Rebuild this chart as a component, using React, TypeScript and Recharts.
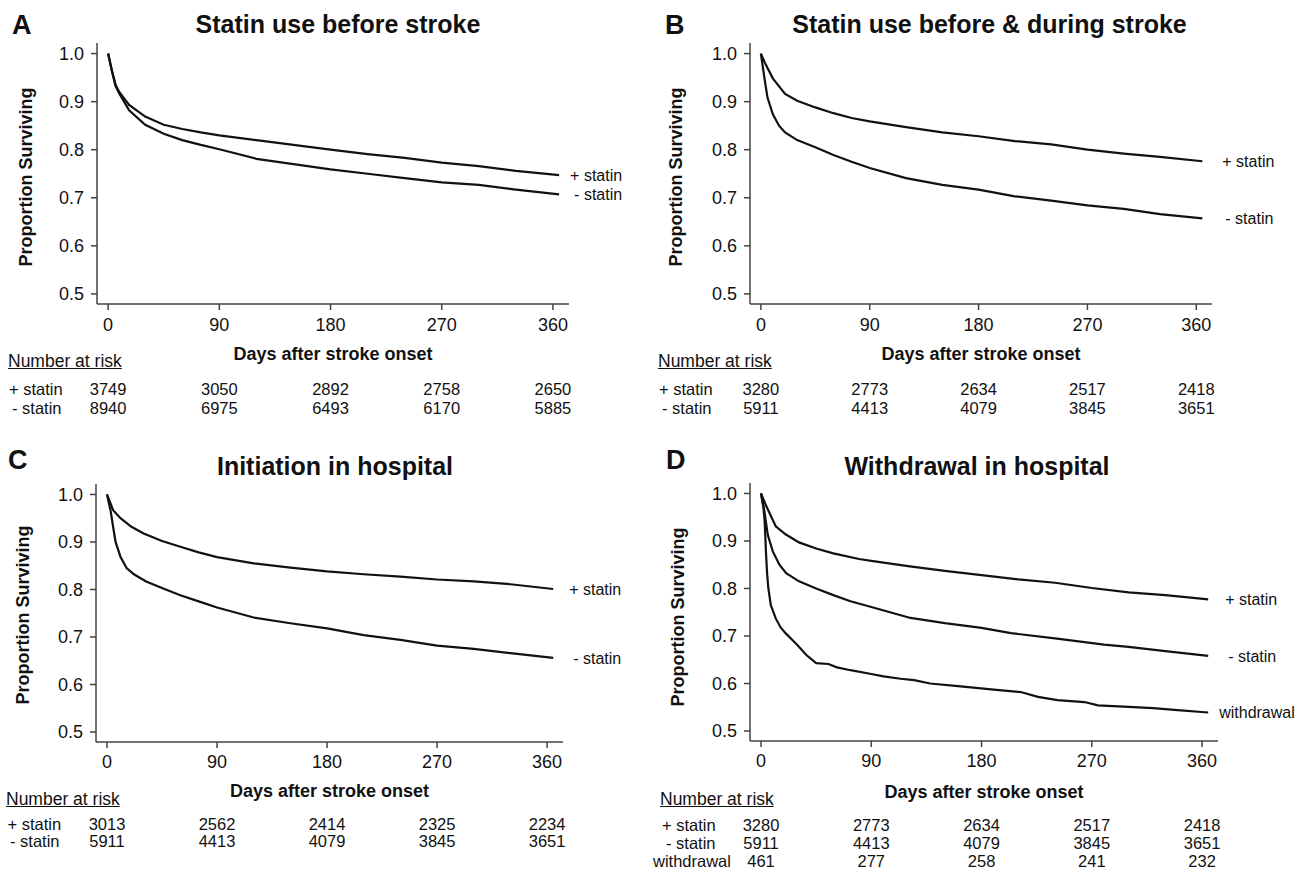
import React from "react";
import { LineChart, Line, XAxis, YAxis, ReferenceDot } from "recharts";

const FONT = '"Liberation Sans", Arial, Helvetica, sans-serif';
const INK = "#111";
const AXIS = "#444";

const xTicks = [0, 90, 180, 270, 360];
const yTicks = [0.5, 0.6, 0.7, 0.8, 0.9, 1.0];
const xDomain: [number, number] = [-9, 373];
const yDomain: [number, number] = [0.479, 1.022];

// A: statin use before stroke
const daysA = [0, 3, 6, 9, 17, 30, 45, 60, 75, 90, 120, 150, 180, 210, 240, 270, 300, 330, 365];
const plusA = [1.0, 0.965, 0.935, 0.92, 0.893, 0.869, 0.852, 0.843, 0.836, 0.83, 0.82, 0.81, 0.8, 0.791, 0.783, 0.773, 0.766, 0.756, 0.747];
const minusA = [1.0, 0.965, 0.933, 0.917, 0.882, 0.852, 0.833, 0.82, 0.81, 0.801, 0.781, 0.77, 0.759, 0.75, 0.741, 0.732, 0.727, 0.717, 0.707];
const riskPlusA = [3749, 3050, 2892, 2758, 2650];
const riskMinusA = [8940, 6975, 6493, 6170, 5885];

// B: before & during
const daysPlusB = [0, 4, 10, 20, 30, 45, 60, 75, 90, 120, 150, 180, 210, 240, 270, 300, 330, 365];
const plusB = [1.0, 0.977, 0.948, 0.916, 0.902, 0.888, 0.876, 0.866, 0.859, 0.847, 0.836, 0.828, 0.818, 0.811, 0.8, 0.792, 0.785, 0.776];
const daysMinusB = [0, 3, 5.5, 10, 15, 20, 30, 45, 60, 75, 90, 120, 150, 180, 210, 240, 270, 300, 330, 365];
const minusB = [1.0, 0.948, 0.908, 0.873, 0.85, 0.836, 0.82, 0.805, 0.789, 0.775, 0.762, 0.741, 0.727, 0.717, 0.703, 0.694, 0.684, 0.677, 0.666, 0.657];
const riskPlusB = [3280, 2773, 2634, 2517, 2418];
const riskMinusB = [5911, 4413, 4079, 3845, 3651];

// C: initiation in hospital
const daysPlusC = [0, 5, 11, 20, 30, 45, 60, 75, 90, 120, 150, 180, 210, 240, 270, 300, 330, 365];
const plusC = [1.0, 0.967, 0.95, 0.932, 0.918, 0.902, 0.89, 0.878, 0.868, 0.855, 0.846, 0.838, 0.832, 0.827, 0.821, 0.817, 0.811, 0.801];
const daysMinusC = [0, 3, 5, 7, 11, 16, 22, 32, 46, 60, 75, 90, 120, 150, 180, 210, 240, 270, 300, 330, 365];
const minusC = [1.0, 0.965, 0.932, 0.9, 0.869, 0.845, 0.832, 0.817, 0.802, 0.788, 0.775, 0.762, 0.741, 0.729, 0.718, 0.704, 0.694, 0.682, 0.675, 0.666, 0.656];
const riskPlusC = [3013, 2562, 2414, 2325, 2234];
const riskMinusC = [5911, 4413, 4079, 3845, 3651];

// D: withdrawal in hospital
const daysPlusD = [0, 4, 12, 20, 31, 45, 59, 80, 90, 120, 150, 180, 210, 240, 270, 300, 330, 365];
const plusD = [1.0, 0.975, 0.931, 0.914, 0.897, 0.884, 0.874, 0.862, 0.858, 0.847, 0.837, 0.828, 0.819, 0.812, 0.801, 0.792, 0.786, 0.777];
const daysMinusD = [0, 2.7, 5.5, 9.6, 15, 20.5, 31, 45, 59, 73, 90, 122, 150, 180, 204, 240, 280, 300, 330, 365];
const minusD = [1.0, 0.963, 0.913, 0.878, 0.85, 0.832, 0.815, 0.8, 0.786, 0.773, 0.761, 0.738, 0.727, 0.717, 0.706, 0.695, 0.682, 0.677, 0.668, 0.658];
const daysWithdrawD = [0, 2, 3, 4, 5, 6, 8, 12, 16, 20, 25, 30, 37, 45, 55, 62, 73, 90, 100, 114, 125, 138, 163, 190, 212, 226, 242, 264, 275, 300, 320, 340, 365];
const withdrawD = [1.0, 0.97, 0.94, 0.878, 0.83, 0.8, 0.765, 0.737, 0.718, 0.706, 0.693, 0.68, 0.66, 0.643, 0.641, 0.634, 0.628, 0.62, 0.615, 0.61, 0.607, 0.6, 0.594, 0.587, 0.582, 0.572, 0.565, 0.561, 0.554, 0.551, 0.548, 0.544, 0.539];
const riskPlusD = [3280, 2773, 2634, 2517, 2418];
const riskMinusD = [5911, 4413, 4079, 3845, 3651];
const riskWithdrawD = [461, 277, 258, 241, 232];

type Series = { name: string; days: number[]; vals: number[]; dx: number };
type RiskRow = { label: string; values: number[]; x: number };
type PanelCfg = {
  letter: string;
  title: string;
  x: number;
  y: number;
  w: number;
  h: number;
  plot: { left: number; right: number; top: number; bottom: number };
  mainH: number;
  tickGap: number;
  rowH: number;
  riskGap: number;
  letterPos: [number, number];
  titlePos: [number, number];
  yLabelPos: [number, number];
  headerPos: [number, number];
  series: Series[];
  risk: RiskRow[];
};

const panels: PanelCfg[] = [
  {
    letter: "A",
    title: "Statin use before stroke",
    x: 0, y: 0, w: 650, h: 430,
    plot: { left: 97, right: 569, top: 43, bottom: 304 },
    mainH: 56, tickGap: 8, rowH: 19, riskGap: 23.3,
    letterPos: [12, 35], titlePos: [338, 33], yLabelPos: [26, 177], headerPos: [8, 368],
    series: [
      { name: "+ statin", days: daysA, vals: plusA, dx: 11 },
      { name: "- statin", days: daysA, vals: minusA, dx: 15 },
    ],
    risk: [
      { label: "+ statin", values: riskPlusA, x: 9 },
      { label: "- statin", values: riskMinusA, x: 12 },
    ],
  },
  {
    letter: "B",
    title: "Statin use before & during stroke",
    x: 650, y: 0, w: 649, h: 430,
    plot: { left: 750, right: 1212, top: 43, bottom: 304 },
    mainH: 56, tickGap: 8, rowH: 19, riskGap: 23.3,
    letterPos: [665, 35], titlePos: [989.5, 33], yLabelPos: [676, 177], headerPos: [658, 368],
    series: [
      { name: "+ statin", days: daysPlusB, vals: plusB, dx: 20 },
      { name: "- statin", days: daysMinusB, vals: minusB, dx: 23 },
    ],
    risk: [
      { label: "+ statin", values: riskPlusB, x: 659 },
      { label: "- statin", values: riskMinusB, x: 662 },
    ],
  },
  {
    letter: "C",
    title: "Initiation in hospital",
    x: 0, y: 430, w: 650, h: 441,
    plot: { left: 96, right: 563, top: 484, bottom: 742 },
    mainH: 55, tickGap: 7, rowH: 17, riskGap: 21.3,
    letterPos: [8, 470], titlePos: [335, 475], yLabelPos: [23, 615], headerPos: [6, 806],
    series: [
      { name: "+ statin", days: daysPlusC, vals: plusC, dx: 16 },
      { name: "- statin", days: daysMinusC, vals: minusC, dx: 20 },
    ],
    risk: [
      { label: "+ statin", values: riskPlusC, x: 7.5 },
      { label: "- statin", values: riskMinusC, x: 10 },
    ],
  },
  {
    letter: "D",
    title: "Withdrawal in hospital",
    x: 650, y: 430, w: 649, h: 441,
    plot: { left: 750, right: 1218, top: 483, bottom: 741 },
    mainH: 57, tickGap: 7, rowH: 18, riskGap: 21.3,
    letterPos: [666, 470], titlePos: [977, 475], yLabelPos: [678, 617], headerPos: [660, 806],
    series: [
      { name: "+ statin", days: daysPlusD, vals: plusD, dx: 17 },
      { name: "- statin", days: daysMinusD, vals: minusD, dx: 20 },
      { name: "withdrawal", days: daysWithdrawD, vals: withdrawD, dx: 11 },
    ],
    risk: [
      { label: "+ statin", values: riskPlusD, x: 662 },
      { label: "- statin", values: riskMinusD, x: 666 },
      { label: "withdrawal", values: riskWithdrawD, x: 653 },
    ],
  },
];

const RISK_FS = 16.5;
const toPoints = (days: number[], vals: number[]) => days.map((d, i) => ({ day: d, v: vals[i] }));

// text placed by its baseline, page coordinates
function Txt({ x, base, size, bold, anchor = "start", underline, children }: any) {
  const shift = anchor === "middle" ? "translateX(-50%)" : undefined;
  return (
    <div
      style={{
        position: "absolute",
        left: x,
        top: base - 0.8465 * size,
        fontSize: size,
        lineHeight: `${size}px`,
        fontWeight: bold ? 700 : 400,
        fontFamily: FONT,
        color: INK,
        whiteSpace: "nowrap",
        transform: shift,
        textDecoration: underline ? "underline" : undefined,
      }}
    >
      {children}
    </div>
  );
}

const endLabel = (text: string, dx: number) => (props: any) => {
  const vb = props.viewBox || props;
  const cx = vb.x + (vb.width || 0) / 2;
  const cy = vb.y + (vb.height || 0) / 2;
  return (
    <text x={cx + dx} y={cy} dy="0.35em" fill={INK} fontSize={16} fontFamily={FONT}>
      {text}
    </text>
  );
};

function Panel({ p }: { p: PanelCfg }) {
  const yAxisW = 60;
  const margin = {
    top: p.plot.top - p.y,
    left: p.plot.left - p.x - yAxisW,
    right: p.x + p.w - p.plot.right,
    bottom: p.h - (p.plot.bottom - p.y) - p.mainH - p.rowH * p.risk.length,
  };
  const tickStyle = { fill: INK, fontSize: 18, fontFamily: FONT };
  const rowBase = (k: number) => p.plot.bottom + p.mainH + k * p.rowH + p.riskGap + 0.71 * RISK_FS;
  const firstPts = toPoints(p.series[0].days, p.series[0].vals);

  return (
    <>
      <div style={{ position: "absolute", left: p.x, top: p.y }}>
        <LineChart width={p.w} height={p.h} margin={margin}>
          <XAxis
            dataKey="day"
            type="number"
            domain={xDomain}
            allowDataOverflow
            ticks={xTicks}
            interval={0}
            height={p.mainH}
            tickSize={6}
            tickMargin={p.tickGap}
            stroke={AXIS}
            axisLine={{ stroke: AXIS, strokeWidth: 1.5 }}
            tickLine={{ stroke: AXIS, strokeWidth: 1.5 }}
            tick={tickStyle}
            label={{
              value: "Days after stroke onset",
              position: "insideBottom",
              offset: 0,
              fill: INK,
              fontSize: 18,
              fontWeight: 700,
              fontFamily: FONT,
            }}
          />
          {/* number-at-risk rows, one hidden axis each */}
          {p.risk.map((r, k) => (
            <XAxis
              key={r.label}
              xAxisId={`risk${k}`}
              dataKey="day"
              type="number"
              domain={xDomain}
              allowDataOverflow
              ticks={xTicks}
              interval={0}
              height={p.rowH}
              axisLine={false}
              tickLine={false}
              tickSize={0}
              tickMargin={p.riskGap}
              tickFormatter={(v: number) => String(r.values[xTicks.indexOf(v)])}
              tick={{ fill: INK, fontSize: RISK_FS, fontFamily: FONT }}
            />
          ))}
          <YAxis
            type="number"
            domain={yDomain}
            allowDataOverflow
            ticks={yTicks}
            interval={0}
            width={yAxisW}
            tickSize={6}
            tickMargin={7}
            tickFormatter={(v: number) => v.toFixed(1)}
            stroke={AXIS}
            axisLine={{ stroke: AXIS, strokeWidth: 1.5 }}
            tickLine={{ stroke: AXIS, strokeWidth: 1.5 }}
            tick={tickStyle}
          />
          {p.risk.map((r, k) => (
            <Line
              key={"anchor" + r.label}
              xAxisId={`risk${k}`}
              data={firstPts}
              dataKey="v"
              stroke="none"
              dot={false}
              activeDot={false}
              isAnimationActive={false}
            />
          ))}
          {p.series.map((s) => (
            <Line
              key={s.name}
              data={toPoints(s.days, s.vals)}
              dataKey="v"
              type="linear"
              stroke={INK}
              strokeWidth={2.2}
              dot={false}
              activeDot={false}
              isAnimationActive={false}
            />
          ))}
          {p.series.map((s) => (
            <ReferenceDot
              key={"lbl" + s.name}
              x={s.days[s.days.length - 1]}
              y={s.vals[s.vals.length - 1]}
              r={0}
              fill="none"
              stroke="none"
              label={endLabel(s.name, s.dx)}
            />
          ))}
        </LineChart>
      </div>

      <Txt x={p.letterPos[0]} base={p.letterPos[1]} size={27} bold>
        {p.letter}
      </Txt>
      <Txt x={p.titlePos[0]} base={p.titlePos[1]} size={25} bold anchor="middle">
        {p.title}
      </Txt>
      <div
        style={{
          position: "absolute",
          left: p.yLabelPos[0],
          top: p.yLabelPos[1],
          transform: "translate(-50%, -50%) rotate(-90deg)",
          fontFamily: FONT,
          fontWeight: 700,
          fontSize: 18,
          lineHeight: "18px",
          color: INK,
          whiteSpace: "nowrap",
        }}
      >
        Proportion Surviving
      </div>
      <Txt x={p.headerPos[0]} base={p.headerPos[1]} size={17.5} underline>
        Number at risk
      </Txt>
      {p.risk.map((r, k) => (
        <Txt key={r.label} x={r.x} base={rowBase(k)} size={RISK_FS}>
          {r.label}
        </Txt>
      ))}
    </>
  );
}

export default function App() {
  return (
    <div
      style={{
        position: "absolute",
        left: 0,
        top: 0,
        width: 1299,
        height: 871,
        background: "#fff",
        overflow: "hidden",
      }}
    >
      {panels.map((p) => (
        <Panel key={p.letter} p={p} />
      ))}
    </div>
  );
}
